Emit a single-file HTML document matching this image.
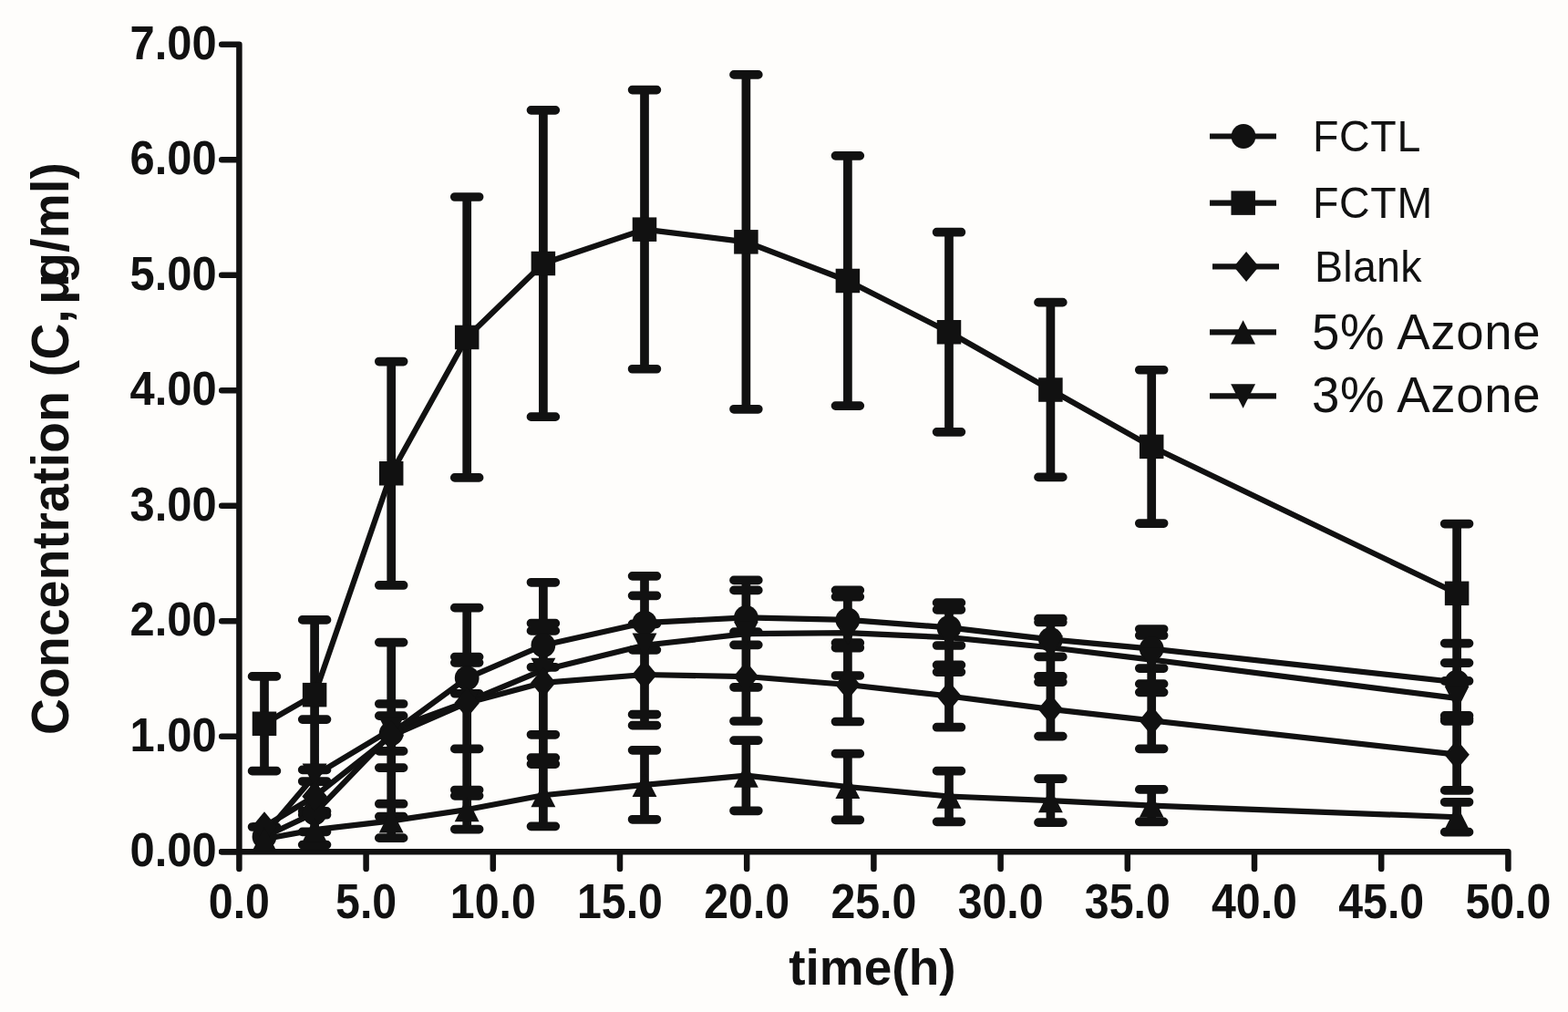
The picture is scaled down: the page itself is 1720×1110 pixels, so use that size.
<!DOCTYPE html>
<html><head><meta charset="utf-8"><title>Concentration vs time</title>
<style>html,body{margin:0;padding:0;background:#fefdfb;overflow:hidden}svg{display:block}</style>
</head><body>
<svg width="1720" height="1110" viewBox="0 0 1720 1110">
<rect width="1720" height="1110" fill="#fefdfb"/>
<g fill="none" stroke="#111111" stroke-width="6.5" stroke-linecap="round" stroke-linejoin="round">
<path d="M243.2 48.63H262.40V953.1M243.2 934.20H262.40M243.2 807.69H262.40M243.2 681.18H262.40M243.2 554.67H262.40M243.2 428.16H262.40M243.2 301.65H262.40M243.2 175.14H262.40"/>
<path d="M243.2 934.20H1654.40V953.1M401.60 934.20V953.1M540.80 934.20V953.1M680.00 934.20V953.1M819.20 934.20V953.1M958.40 934.20V953.1M1097.60 934.20V953.1M1236.80 934.20V953.1M1376.00 934.20V953.1M1515.20 934.20V953.1"/>
</g>
<g fill="none" stroke="#111111" stroke-width="9.7" stroke-linecap="round"><path d="M290.00 741.90V845.64M276.60 741.90H303.40M276.60 845.64H303.40M345.10 679.91V844.38M331.70 679.91H358.50M331.70 844.38H358.50M429.20 396.53V641.96M415.80 396.53H442.60M415.80 641.96H442.60M512.20 216.00V523.93M498.80 216.00H525.60M498.80 523.93H525.60M595.90 120.87V457.13M582.50 120.87H609.30M582.50 457.13H609.30M707.00 98.60V404.76M693.60 98.60H720.40M693.60 404.76H720.40M818.40 81.90V448.78M805.00 81.90H831.80M805.00 448.78H831.80M929.90 170.84V445.11M916.50 170.84H943.30M916.50 445.11H943.30M1041.00 254.71V473.83M1027.60 254.71H1054.40M1027.60 473.83H1054.40M1152.40 331.63V523.42M1139.00 331.63H1165.80M1139.00 523.42H1165.80M1263.20 405.77V574.03M1249.80 405.77H1276.60M1249.80 574.03H1276.60M1598.10 574.53V727.10M1584.70 574.53H1611.50M1584.70 727.10H1611.50M290.00 907.00V917.75M276.60 907.00H303.40M429.20 785.17V823.88M415.80 785.17H442.60M415.80 823.88H442.60M512.20 726.85V760.75M498.80 726.85H525.60M498.80 760.75H525.60M595.90 683.71V731.78M582.50 683.71H609.30M582.50 731.78H609.30M707.00 653.35V712.81M693.60 653.35H720.40M693.60 712.81H720.40M818.40 647.40V707.37M805.00 647.40H831.80M805.00 707.37H831.80M929.90 654.61V705.22M916.50 654.61H943.30M916.50 705.22H943.30M1041.00 668.78V708.00M1027.60 668.78H1054.40M1027.60 708.00H1054.40M1152.40 682.45V720.40M1139.00 682.45H1165.80M1139.00 720.40H1165.80M1263.20 690.04V733.05M1249.80 690.04H1276.60M1249.80 733.05H1276.60M1598.10 705.60V790.86M1584.70 705.60H1611.50M1584.70 790.86H1611.50M345.10 789.09V912.31M331.70 789.09H358.50M331.70 912.31H358.50M429.20 704.58V895.61M415.80 704.58H442.60M415.80 895.61H442.60M512.20 666.63V872.84M498.80 666.63H525.60M498.80 872.84H525.60M595.90 638.80V831.09M582.50 638.80H609.30M582.50 831.09H609.30M707.00 631.84V783.65M693.60 631.84H720.40M693.60 783.65H720.40M818.40 636.40V753.80M805.00 636.40H831.80M805.00 753.80H831.80M929.90 647.40V741.02M916.50 647.40H943.30M916.50 741.02H943.30M1041.00 661.19V737.10M1027.60 661.19H1054.40M1027.60 737.10H1054.40M1152.40 678.65V741.90M1139.00 678.65H1165.80M1139.00 741.90H1165.80M1263.20 696.99V750.13M1249.80 696.99H1276.60M1249.80 750.13H1276.60M1598.10 746.97V784.92M1584.70 746.97H1611.50M1584.70 784.92H1611.50M345.10 857.03V889.92M331.70 857.03H358.50M331.70 889.92H358.50M429.20 772.01V842.10M415.80 772.01H442.60M415.80 842.10H442.60M512.20 720.59V821.42M498.80 720.59H525.60M498.80 821.42H525.60M595.90 691.93V805.79M582.50 691.93H609.30M582.50 805.79H609.30M707.00 684.34V795.67M693.60 684.34H720.40M693.60 795.67H720.40M818.40 693.07V790.99M805.00 693.07H831.80M805.00 790.99H831.80M929.90 710.53V791.50M916.50 710.53H943.30M916.50 791.50H943.30M1041.00 729.38V797.70M1027.60 729.38H1054.40M1027.60 797.70H1054.40M1152.40 748.10V807.56M1139.00 748.10H1165.80M1139.00 807.56H1165.80M1263.20 759.36V821.35M1249.80 759.36H1276.60M1249.80 821.35H1276.60M1598.10 788.46V866.90M1584.70 788.46H1611.50M1584.70 866.90H1611.50M345.10 893.72V926.61M331.70 893.72H358.50M331.70 926.61H358.50M429.20 881.70V919.15M415.80 881.70H442.60M415.80 919.15H442.60M512.20 866.52V909.53M498.80 866.52H525.60M498.80 909.53H525.60M595.90 838.05V906.37M582.50 838.05H609.30M582.50 906.37H609.30M707.00 822.87V898.78M693.60 822.87H720.40M693.60 898.78H720.40M818.40 812.12V889.29M805.00 812.12H831.80M805.00 889.29H831.80M929.90 826.67V899.28M916.50 826.67H943.30M916.50 899.28H943.30M1041.00 845.64V901.31M1027.60 845.64H1054.40M1027.60 901.31H1054.40M1152.40 854.12V902.19M1139.00 854.12H1165.80M1139.00 902.19H1165.80M1263.20 865.88V901.31M1249.80 865.88H1276.60M1249.80 901.31H1276.60M1598.10 879.80V912.69M1584.70 879.80H1611.50M1584.70 912.69H1611.50"/></g>
<g fill="none" stroke="#111111" stroke-width="6.2" stroke-linejoin="round"><polyline points="290.00,793.77 345.10,762.15 429.20,519.25 512.20,369.97 595.90,289.00 707.00,251.68 818.40,265.34 929.90,307.98 1041.00,364.27 1152.40,427.53 1263.20,489.90 1598.10,650.82"/><polyline points="290.00,917.75 345.10,891.82 429.20,804.53 512.20,743.80 595.90,707.75 707.00,683.08 818.40,677.38 929.90,679.91 1041.00,688.39 1152.40,701.42 1263.20,711.54 1598.10,748.23"/><polyline points="290.00,915.48 345.10,850.70 429.20,800.10 512.20,769.74 595.90,734.95 707.00,707.75 818.40,695.10 929.90,694.21 1041.00,699.14 1152.40,710.28 1263.20,723.56 1598.10,765.94"/><polyline points="290.00,906.75 345.10,873.48 429.20,807.06 512.20,771.00 595.90,748.86 707.00,740.01 818.40,742.03 929.90,751.01 1041.00,763.54 1152.40,777.83 1263.20,790.36 1598.10,827.68"/><polyline points="290.00,920.28 345.10,910.16 429.20,900.42 512.20,888.02 595.90,872.21 707.00,860.82 818.40,850.70 929.90,862.97 1041.00,873.48 1152.40,878.16 1263.20,883.60 1598.10,896.25"/></g>
<g fill="#111111"><rect x="276.75" y="780.52" width="26.5" height="26.5"/><rect x="331.85" y="748.90" width="26.5" height="26.5"/><rect x="415.95" y="506.00" width="26.5" height="26.5"/><rect x="498.95" y="356.72" width="26.5" height="26.5"/><rect x="582.65" y="275.75" width="26.5" height="26.5"/><rect x="693.75" y="238.43" width="26.5" height="26.5"/><rect x="805.15" y="252.09" width="26.5" height="26.5"/><rect x="916.65" y="294.73" width="26.5" height="26.5"/><rect x="1027.75" y="351.02" width="26.5" height="26.5"/><rect x="1139.15" y="414.28" width="26.5" height="26.5"/><rect x="1249.95" y="476.65" width="26.5" height="26.5"/><rect x="1584.85" y="637.57" width="26.5" height="26.5"/><circle cx="290.00" cy="917.75" r="13.4"/><circle cx="345.10" cy="891.82" r="13.4"/><circle cx="429.20" cy="804.53" r="13.4"/><circle cx="512.20" cy="743.80" r="13.4"/><circle cx="595.90" cy="707.75" r="13.4"/><circle cx="707.00" cy="683.08" r="13.4"/><circle cx="818.40" cy="677.38" r="13.4"/><circle cx="929.90" cy="679.91" r="13.4"/><circle cx="1041.00" cy="688.39" r="13.4"/><circle cx="1152.40" cy="701.42" r="13.4"/><circle cx="1263.20" cy="711.54" r="13.4"/><circle cx="1598.10" cy="748.23" r="13.4"/><path d="M276.55 902.23L303.45 902.23L290.00 928.73Z"/><path d="M331.65 837.45L358.55 837.45L345.10 863.95Z"/><path d="M415.75 786.85L442.65 786.85L429.20 813.35Z"/><path d="M498.75 756.49L525.65 756.49L512.20 782.99Z"/><path d="M582.45 721.70L609.35 721.70L595.90 748.20Z"/><path d="M693.55 694.50L720.45 694.50L707.00 721.00Z"/><path d="M804.95 681.85L831.85 681.85L818.40 708.35Z"/><path d="M916.45 680.96L943.35 680.96L929.90 707.46Z"/><path d="M1027.55 685.89L1054.45 685.89L1041.00 712.39Z"/><path d="M1138.95 697.03L1165.85 697.03L1152.40 723.53Z"/><path d="M1249.75 710.31L1276.65 710.31L1263.20 736.81Z"/><path d="M1584.65 752.69L1611.55 752.69L1598.10 779.19Z"/><path d="M290.00 890.25L303.75 906.75L290.00 923.25L276.25 906.75Z"/><path d="M345.10 856.98L358.85 873.48L345.10 889.98L331.35 873.48Z"/><path d="M429.20 790.56L442.95 807.06L429.20 823.56L415.45 807.06Z"/><path d="M512.20 754.50L525.95 771.00L512.20 787.50L498.45 771.00Z"/><path d="M595.90 732.36L609.65 748.86L595.90 765.36L582.15 748.86Z"/><path d="M707.00 723.51L720.75 740.01L707.00 756.51L693.25 740.01Z"/><path d="M818.40 725.53L832.15 742.03L818.40 758.53L804.65 742.03Z"/><path d="M929.90 734.51L943.65 751.01L929.90 767.51L916.15 751.01Z"/><path d="M1041.00 747.04L1054.75 763.54L1041.00 780.04L1027.25 763.54Z"/><path d="M1152.40 761.33L1166.15 777.83L1152.40 794.33L1138.65 777.83Z"/><path d="M1263.20 773.86L1276.95 790.36L1263.20 806.86L1249.45 790.36Z"/><path d="M1598.10 811.18L1611.85 827.68L1598.10 844.18L1584.35 827.68Z"/><path d="M290.00 907.13L303.45 933.43L276.55 933.43Z"/><path d="M345.10 897.01L358.55 923.31L331.65 923.31Z"/><path d="M429.20 887.27L442.65 913.57L415.75 913.57Z"/><path d="M512.20 874.87L525.65 901.17L498.75 901.17Z"/><path d="M595.90 859.06L609.35 885.36L582.45 885.36Z"/><path d="M707.00 847.67L720.45 873.97L693.55 873.97Z"/><path d="M818.40 837.55L831.85 863.85L804.95 863.85Z"/><path d="M929.90 849.82L943.35 876.12L916.45 876.12Z"/><path d="M1041.00 860.33L1054.45 886.63L1027.55 886.63Z"/><path d="M1152.40 865.01L1165.85 891.31L1138.95 891.31Z"/><path d="M1263.20 870.45L1276.65 896.75L1249.75 896.75Z"/><path d="M1598.10 883.10L1611.55 909.40L1584.65 909.40Z"/></g>
<g font-family="'Liberation Sans', Arial, sans-serif" font-weight="bold" font-size="49" fill="#111111">
<g text-anchor="end"><text transform="translate(237.6 950.40) scale(0.997 1.07)">0.00</text><text transform="translate(237.6 823.89) scale(0.997 1.07)">1.00</text><text transform="translate(237.6 697.38) scale(0.997 1.07)">2.00</text><text transform="translate(237.6 570.87) scale(0.997 1.07)">3.00</text><text transform="translate(237.6 444.36) scale(0.997 1.07)">4.00</text><text transform="translate(237.6 317.85) scale(0.997 1.07)">5.00</text><text transform="translate(237.6 191.34) scale(0.997 1.07)">6.00</text><text transform="translate(237.6 64.83) scale(0.997 1.07)">7.00</text></g>
<g text-anchor="middle"><text transform="translate(262.40 1006.7) scale(0.985 1.09)">0.0</text><text transform="translate(401.60 1006.7) scale(0.985 1.09)">5.0</text><text transform="translate(540.80 1006.7) scale(0.985 1.09)">10.0</text><text transform="translate(680.00 1006.7) scale(0.985 1.09)">15.0</text><text transform="translate(819.20 1006.7) scale(0.985 1.09)">20.0</text><text transform="translate(958.40 1006.7) scale(0.985 1.09)">25.0</text><text transform="translate(1097.60 1006.7) scale(0.985 1.09)">30.0</text><text transform="translate(1236.80 1006.7) scale(0.985 1.09)">35.0</text><text transform="translate(1376.00 1006.7) scale(0.985 1.09)">40.0</text><text transform="translate(1515.20 1006.7) scale(0.985 1.09)">45.0</text><text transform="translate(1654.40 1006.7) scale(0.985 1.09)">50.0</text></g>
<text x="956.9" y="1079.5" text-anchor="middle" font-size="55">time(h)</text>
<text transform="translate(75.0 806.0) rotate(-90) scale(1 1.055)" font-size="55" letter-spacing="0.35">Concentration (C,<tspan dx="5">μ</tspan><tspan dx="-11">g</tspan>/ml)</text>
</g>
<g fill="none" stroke="#111111" stroke-width="6.2"><path d="M1327 149.5H1400M1327 222.6H1400M1330 292.4H1403M1327 364.4H1400M1327 434.4H1400"/></g>
<g fill="#111111"><circle cx="1364.00" cy="149.50" r="13.4"/><rect x="1350.45" y="209.35" width="26.5" height="26.5"/><path d="M1367.10 275.90L1380.85 292.40L1367.10 308.90L1353.35 292.40Z"/><path d="M1363.60 351.25L1377.05 377.55L1350.15 377.55Z"/><path d="M1350.15 421.15L1377.05 421.15L1363.60 447.65Z"/></g>
<g font-family="'Liberation Sans', Arial, sans-serif" fill="#111111"><text transform="translate(1440 166) scale(1 1.04)" font-size="46.5" letter-spacing="0.7">FCTL</text>
<text transform="translate(1440 239.4) scale(1 1.04)" font-size="46.5" letter-spacing="0.7">FCTM</text>
<text transform="translate(1442 309) scale(1 1.03)" font-size="46.5" letter-spacing="0.3">Blank</text>
<text transform="translate(1439 382.6) scale(1 1.03)" font-size="54.6" letter-spacing="0.7">5% Azone</text>
<text transform="translate(1439 452.2) scale(1 1.03)" font-size="54.6" letter-spacing="0.7">3% Azone</text></g>
</svg>
</body></html>
